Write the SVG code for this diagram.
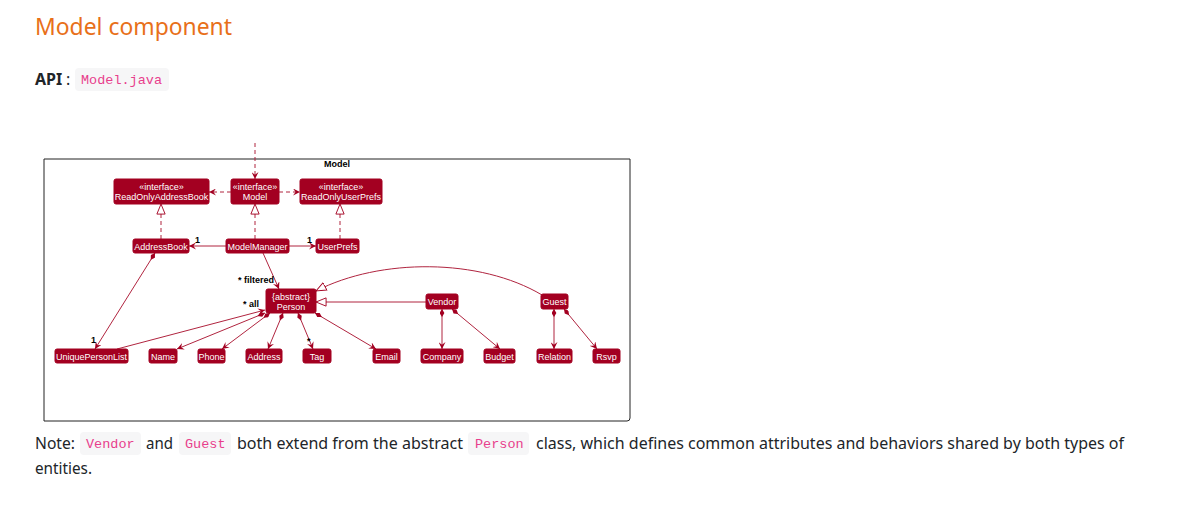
<svg xmlns="http://www.w3.org/2000/svg" width="1201" height="522" viewBox="0 0 1201 522">
<defs>
<style>
.pg{font-family:"Noto Sans","Liberation Sans",sans-serif;font-size:16px;fill:#212529}
.code{font-family:"Liberation Mono","DejaVu Sans Mono",monospace;font-size:13.5px;fill:#e83e8c}
.cbox{fill:#f6f6f7}
.nd{fill:#A30021;stroke:#A30021;stroke-width:1}
.nt{font-family:"Liberation Sans",Arial,sans-serif;font-size:9px;fill:#ffffff;text-anchor:middle}
.ln{stroke:#B0243F;stroke-width:1;fill:none}
.ds{stroke-dasharray:4,3}
.lb{font-family:"Liberation Sans",Arial,sans-serif;font-size:9px;font-weight:bold;fill:#000}
</style>
<marker id="arr" viewBox="0 0 8 8" refX="8" refY="4" markerWidth="7" markerHeight="7" markerUnits="userSpaceOnUse" orient="auto"><path d="M0,0 L8,4 L0,8 L3,4 Z" fill="#A30021"/></marker>
<marker id="tri" viewBox="0 0 12 10" refX="11.5" refY="5" markerWidth="11" markerHeight="10" markerUnits="userSpaceOnUse" orient="auto"><path d="M0.5,0.5 L11.5,5 L0.5,9.5 Z" fill="#fff" stroke="#A30021"/></marker>
<marker id="dia" viewBox="0 0 10 6" refX="0" refY="3" markerWidth="8" markerHeight="5" markerUnits="userSpaceOnUse" orient="auto"><path d="M0,3 L5,0 L10,3 L5,6 Z" fill="#A30021"/></marker>
</defs>
<rect width="1201" height="522" fill="#ffffff"/>

<text x="35" y="35" font-family="Noto Sans,Liberation Sans,sans-serif" font-size="24" fill="#E8701A" textLength="197" lengthAdjust="spacingAndGlyphs">Model component</text>
<text x="35" y="85" class="pg" font-weight="bold">API</text>
<text x="66" y="85" class="pg">:</text>
<rect x="75" y="68" width="94" height="23" rx="4" class="cbox"/>
<text x="81" y="84" class="code">Model.java</text>

<g id="frame">
<path d="M44,159 H630 V418 Q630,421 627,421 H44 Z" fill="none" stroke="#222" stroke-width="1"/>
<text x="337" y="167" class="lb" text-anchor="middle">Model</text>
</g>

<g id="connectors">
<line x1="255" y1="143" x2="255" y2="179" class="ln ds" marker-end="url(#arr)"/>
<line x1="231" y1="192" x2="209" y2="192" class="ln ds" marker-end="url(#arr)"/>
<line x1="279" y1="192" x2="300" y2="192" class="ln ds" marker-end="url(#arr)"/>
<line x1="161" y1="239" x2="161" y2="204" class="ln ds" marker-end="url(#tri)"/>
<line x1="255" y1="239" x2="255" y2="204" class="ln ds" marker-end="url(#tri)"/>
<line x1="340" y1="239" x2="340" y2="204" class="ln ds" marker-end="url(#tri)"/>
<line x1="226" y1="246" x2="189" y2="246" class="ln" marker-end="url(#arr)"/>
<text x="195" y="243" class="lb">1</text>
<line x1="289" y1="246" x2="316" y2="246" class="ln" marker-end="url(#arr)"/>
<text x="307" y="243" class="lb">1</text>
<line x1="263" y1="253" x2="279" y2="289" class="ln" marker-end="url(#arr)"/>
<text x="238" y="283" class="lb">* filtered</text>
<line x1="155" y1="253" x2="95" y2="349" class="ln" marker-start="url(#dia)" marker-end="url(#arr)"/>
<text x="91" y="343" class="lb">1</text>
<line x1="117" y1="349" x2="265" y2="310" class="ln" marker-end="url(#arr)"/>
<text x="243" y="307" class="lb">* all</text>
<line x1="265" y1="313" x2="177" y2="349" class="ln" marker-start="url(#dia)" marker-end="url(#arr)"/>
<line x1="270" y1="313" x2="222" y2="349" class="ln" marker-start="url(#dia)" marker-end="url(#arr)"/>
<line x1="283" y1="313" x2="268" y2="349" class="ln" marker-start="url(#dia)" marker-end="url(#arr)"/>
<line x1="298" y1="313" x2="313" y2="349" class="ln" marker-start="url(#dia)" marker-end="url(#arr)"/>
<text x="307" y="344" class="lb">*</text>
<line x1="315" y1="313" x2="376" y2="349" class="ln" marker-start="url(#dia)" marker-end="url(#arr)"/>
<line x1="426" y1="302" x2="316" y2="302" class="ln" marker-end="url(#tri)"/>
<path d="M542,295 C480,258 380,258 316,291" class="ln" marker-end="url(#tri)"/>
<line x1="442" y1="309" x2="442" y2="349" class="ln" marker-start="url(#dia)" marker-end="url(#arr)"/>
<line x1="452" y1="309" x2="500" y2="349" class="ln" marker-start="url(#dia)" marker-end="url(#arr)"/>
<line x1="554" y1="309" x2="554" y2="349" class="ln" marker-start="url(#dia)" marker-end="url(#arr)"/>
<line x1="564" y1="309" x2="597" y2="349" class="ln" marker-start="url(#dia)" marker-end="url(#arr)"/>
</g>

<g id="ReadOnlyAddressBook"><rect x="114" y="179" width="95" height="25" rx="2" class="nd"/><text x="161.5" y="190" class="nt">«interface»</text><text x="161.5" y="200" class="nt">ReadOnlyAddressBook</text></g>
<g id="ModelInterface"><rect x="231" y="179" width="48" height="25" rx="2" class="nd"/><text x="255" y="190" class="nt">«interface»</text><text x="255" y="200" class="nt">Model</text></g>
<g id="ReadOnlyUserPrefs"><rect x="300" y="179" width="82" height="25" rx="2" class="nd"/><text x="341" y="190" class="nt">«interface»</text><text x="341" y="200" class="nt">ReadOnlyUserPrefs</text></g>
<g id="AddressBook"><rect x="133" y="239" width="56" height="14" rx="2" class="nd"/><text x="161" y="249.5" class="nt">AddressBook</text></g>
<g id="ModelManager"><rect x="226" y="239" width="63" height="14" rx="2" class="nd"/><text x="257.5" y="249.5" class="nt">ModelManager</text></g>
<g id="UserPrefs"><rect x="316" y="239" width="43" height="14" rx="2" class="nd"/><text x="337.5" y="249.5" class="nt">UserPrefs</text></g>
<g id="Person"><rect x="266" y="289" width="50" height="24" rx="2" class="nd"/><text x="291" y="299.5" class="nt">{abstract}</text><text x="291" y="309.5" class="nt">Person</text></g>
<g id="Vendor"><rect x="426" y="294" width="32" height="15" rx="2" class="nd"/><text x="442" y="305" class="nt">Vendor</text></g>
<g id="Guest"><rect x="541" y="294" width="27" height="15" rx="2" class="nd"/><text x="554.5" y="305" class="nt">Guest</text></g>
<g id="UniquePersonList"><rect x="55" y="349" width="73" height="14" rx="2" class="nd"/><text x="91.5" y="359.5" class="nt">UniquePersonList</text></g>
<g id="Name"><rect x="149" y="349" width="28" height="14" rx="2" class="nd"/><text x="163" y="359.5" class="nt">Name</text></g>
<g id="Phone"><rect x="198" y="349" width="27" height="14" rx="2" class="nd"/><text x="211.5" y="359.5" class="nt">Phone</text></g>
<g id="Address"><rect x="246" y="349" width="36" height="14" rx="2" class="nd"/><text x="264" y="359.5" class="nt">Address</text></g>
<g id="Tag"><rect x="303" y="349" width="28" height="14" rx="2" class="nd"/><text x="317" y="359.5" class="nt">Tag</text></g>
<g id="Email"><rect x="373" y="349" width="27" height="14" rx="2" class="nd"/><text x="386.5" y="359.5" class="nt">Email</text></g>
<g id="Company"><rect x="421" y="349" width="42" height="14" rx="2" class="nd"/><text x="442" y="359.5" class="nt">Company</text></g>
<g id="Budget"><rect x="484" y="349" width="31" height="14" rx="2" class="nd"/><text x="499.5" y="359.5" class="nt">Budget</text></g>
<g id="Relation"><rect x="537" y="349" width="35" height="14" rx="2" class="nd"/><text x="554.5" y="359.5" class="nt">Relation</text></g>
<g id="Rsvp"><rect x="593" y="349" width="27" height="14" rx="2" class="nd"/><text x="606.5" y="359.5" class="nt">Rsvp</text></g>

<g id="note">
<text x="35" y="449" class="pg" textLength="40" lengthAdjust="spacingAndGlyphs">Note:</text>
<rect x="80" y="432" width="61" height="23" rx="4" class="cbox"/>
<text x="86" y="448" class="code">Vendor</text>
<text x="146" y="449" class="pg" textLength="27" lengthAdjust="spacingAndGlyphs">and</text>
<rect x="179" y="432" width="52" height="23" rx="4" class="cbox"/>
<text x="185" y="448" class="code">Guest</text>
<text x="237" y="449" class="pg" textLength="226" lengthAdjust="spacingAndGlyphs">both extend from the abstract</text>
<rect x="468" y="432" width="61" height="23" rx="4" class="cbox"/>
<text x="475" y="448" class="code">Person</text>
<text x="536" y="449" class="pg" textLength="588" lengthAdjust="spacingAndGlyphs">class, which defines common attributes and behaviors shared by both types of</text>
<text x="35" y="474" class="pg" textLength="57" lengthAdjust="spacingAndGlyphs">entities.</text>
</g>
</svg>
